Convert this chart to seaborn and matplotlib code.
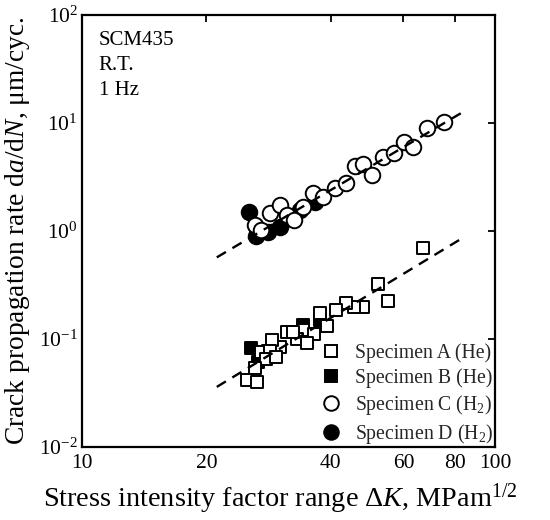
import matplotlib
matplotlib.use("Agg")
import matplotlib.pyplot as plt
import matplotlib.ticker as mticker
from matplotlib.lines import Line2D
import seaborn as sns
import pandas as pd

# ---------------- data ----------------
a_K = [67.1, 52.2, 55.2, 47.8, 45.6, 43.5, 41.2, 37.6, 39.3, 34.3, 36.5, 33.1,
       35.1, 31.4, 32.5, 30.1, 28.8, 27.2, 28.5, 27.9, 29.5, 26.2, 25.1, 26.6]
a_rate = [0.69, 0.321, 0.226, 0.199, 0.199, 0.217, 0.186, 0.173, 0.132, 0.121, 0.111, 0.101,
          0.091, 0.117, 0.115, 0.084, 0.098, 0.076, 0.078, 0.065, 0.068, 0.054, 0.042, 0.040]

b_K = [37.6, 34.3, 25.6, 26.7, 28.2]
b_rate = [0.150, 0.135, 0.082, 0.061, 0.078]

c_K = [26.2, 27.2, 28.6, 30.2, 31.3, 32.6, 34.3, 36.2, 38.4, 41.0, 43.6, 45.8,
       48.0, 50.3, 53.5, 57.0, 60.2, 63.4, 68.3, 75.2]
c_rate = [1.14, 1.02, 1.48, 1.74, 1.41, 1.26, 1.68, 2.23, 2.08, 2.48, 2.77, 4.0,
          4.17, 3.30, 4.81, 5.24, 6.72, 6.04, 8.93, 10.3]

d_K = [25.4, 26.4, 28.2, 30.2, 33.7, 36.7]
d_rate = [1.51, 0.90, 0.98, 1.10, 1.56, 1.87]

fit_K = [21.2, 83.8]
fit_h2 = [0.57, 12.7]
fit_he = [0.036, 0.87]

labels = ["Specimen A (He)", "Specimen B (He)",
          "Specimen C (H$_2$)", "Specimen D (H$_2$)"]
x_ticks = [10, 20, 40, 60, 80, 100]
x_tick_labels = ["10", "20", "40", "60", "80", "100"]
info_lines = ["SCM435", "R.T.", "1 Hz"]

# ---------------- style ----------------
sns.set_theme(style="white")
plt.rcParams["font.family"] = ["Liberation Serif", "DejaVu Serif"]
plt.rcParams["mathtext.fontset"] = "custom"
plt.rcParams["mathtext.rm"] = "Liberation Serif"
plt.rcParams["mathtext.it"] = "Liberation Serif:italic"
plt.rcParams["mathtext.bf"] = "Liberation Serif:bold"

fig = plt.figure(figsize=(5.5, 5.2), dpi=100)
ax = fig.add_axes([82 / 550, 1 - 447 / 520, (495 - 82) / 550, (447 - 15) / 520])

df_a = pd.DataFrame({"K": a_K, "r": a_rate})
df_b = pd.DataFrame({"K": b_K, "r": b_rate})
df_c = pd.DataFrame({"K": c_K, "r": c_rate})
df_d = pd.DataFrame({"K": d_K, "r": d_rate})

sq = 85
ci = 125
lw = 1.4
sns.scatterplot(data=df_b, x="K", y="r", marker="s", s=sq, color="black",
                edgecolor="black", linewidth=lw, ax=ax, zorder=2)
sns.scatterplot(data=df_a, x="K", y="r", marker="s", s=sq, color="white",
                edgecolor="black", linewidth=lw, ax=ax, zorder=3)
sns.scatterplot(data=df_d, x="K", y="r", marker="o", s=ci, color="black",
                edgecolor="black", linewidth=lw, ax=ax, zorder=2)
sns.scatterplot(data=df_c, x="K", y="r", marker="o", s=ci, color="white",
                edgecolor="black", linewidth=lw, ax=ax, zorder=3)

ax.plot(fit_K, fit_h2, color="black", lw=1.7, dashes=[4.5, 3.2], zorder=4)
ax.plot(fit_K, fit_he, color="black", lw=1.7, dashes=[4.5, 3.2], zorder=4)

ax.set_xscale("log")
ax.set_yscale("log")
ax.set_xlim(10, 100)
ax.set_ylim(1e-2, 1e2)

ax.xaxis.set_major_locator(mticker.FixedLocator(x_ticks))
ax.xaxis.set_major_formatter(mticker.FixedFormatter(x_tick_labels))
ax.xaxis.set_minor_locator(mticker.NullLocator())
ax.yaxis.set_major_locator(mticker.LogLocator(base=10, numticks=10))
ax.yaxis.set_minor_locator(mticker.NullLocator())

ax.tick_params(axis="both", which="major", direction="in", length=5, width=1.3,
               top=True, right=True, labelsize=15.5, colors="black")
ax.tick_params(axis="x", pad=5)
ax.tick_params(axis="y", pad=3)
for s in ax.spines.values():
    s.set_linewidth(1.6)
    s.set_color("black")

ax.set_xlabel("Stress intensity factor range Δ$K$, MPam$^{1/2}$", fontsize=20.3,
              color="black")
ax.xaxis.set_label_coords(0.48, -0.08)
ax.set_ylabel("Crack propagation rate d$a$/d$N$, μm/cyc.", fontsize=19.8,
              color="black")
ax.yaxis.set_label_coords(-0.12, 0.5)

for i, t in enumerate(info_lines):
    ax.text(0.04, 0.942 - i * 0.058, t, transform=ax.transAxes, fontsize=15,
            va="center", ha="left", color="black")

handles = [
    Line2D([], [], marker="s", ls="none", ms=9, mfc="white", mec="black", mew=lw),
    Line2D([], [], marker="s", ls="none", ms=9, mfc="black", mec="black", mew=lw),
    Line2D([], [], marker="o", ls="none", ms=10.5, mfc="white", mec="black", mew=lw),
    Line2D([], [], marker="o", ls="none", ms=10.5, mfc="black", mec="black", mew=lw),
]
ax.legend(handles, labels, loc="lower right", frameon=False, fontsize=14.2,
          bbox_to_anchor=(1.015, -0.015), borderaxespad=0, handlelength=1.0,
          handletextpad=0.7, labelspacing=0.25)

fig.savefig("out.png", dpi=100)
